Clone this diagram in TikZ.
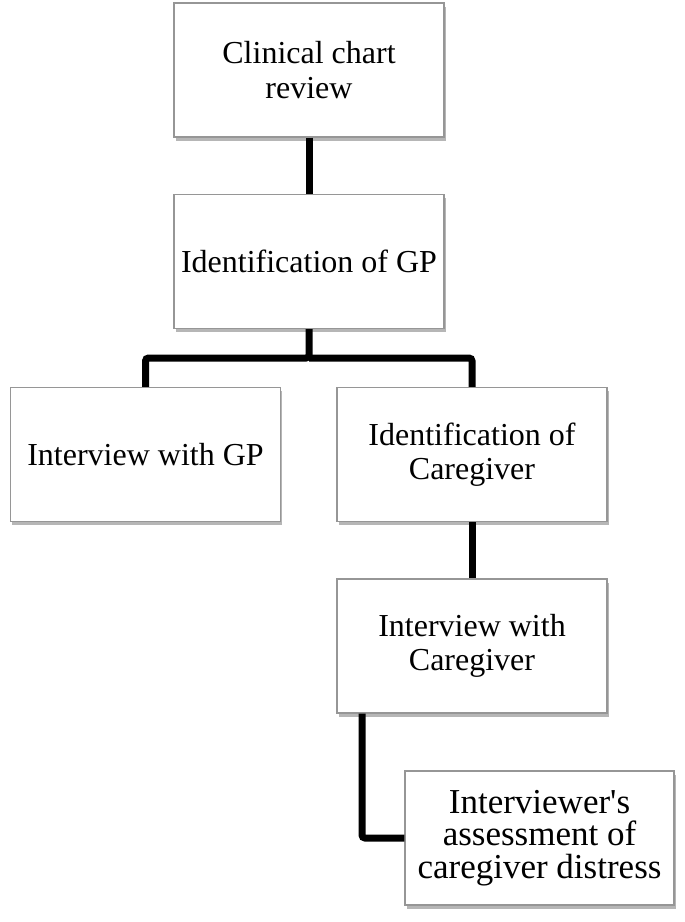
\documentclass[tikz,border=0pt]{standalone}
\usepackage{fontspec}
\setmainfont{Liberation Serif}
\usetikzlibrary{positioning,shadows}
\definecolor{boxgrey}{RGB}{150,150,150}
\definecolor{shadegrey}{RGB}{110,110,110}

\begin{document}
\begin{tikzpicture}[x=1pt,y=1pt,
  stepbox/.style={draw=boxgrey, line width=1.4pt, fill=white, align=center,
    minimum width=270pt, minimum height=134pt, inner sep=4pt,
    font=\fontsize{32}{34.5}\selectfont,
    drop shadow={shadow xshift=1.5pt, shadow yshift=-3.5pt, fill=shadegrey, opacity=0.5}},
  link/.style={line width=7pt, rounded corners=3pt}]
  \useasboundingbox (0,0) rectangle (685,-922);
  % Boxes
  \node[stepbox] (chart) at (309,-70) {Clinical chart\\review};
  \node[stepbox] (idgp) at (309,-261.5) {Identification of GP};
  \node[stepbox] (intgp) at (145.5,-454.5) {Interview with GP};
  \node[stepbox] (idcg) at (472,-454.5) {Identification of\\Caregiver};
  \node[stepbox] (intcg) at (472,-646) {Interview with\\Caregiver};
  \node[stepbox, minimum width=269pt, font=\fontsize{35}{32.5}\selectfont] (assess) at (539.5,-838) {Interviewer\textquotesingle s\\assessment of\\caregiver distress};
  % Connectors
  \coordinate (fork) at (309,-358);
  \draw[link] (chart.south) -- (idgp.north);
  \draw[link] (idgp.south) -- (fork) -| (intgp.north);
  \draw[link] (fork) -| (idcg.north);
  \draw[link] (idcg.south) -- (intcg.north);
  \draw[link] ([xshift=-110pt]intcg.south) |- (assess.west);
\end{tikzpicture}
\end{document}
